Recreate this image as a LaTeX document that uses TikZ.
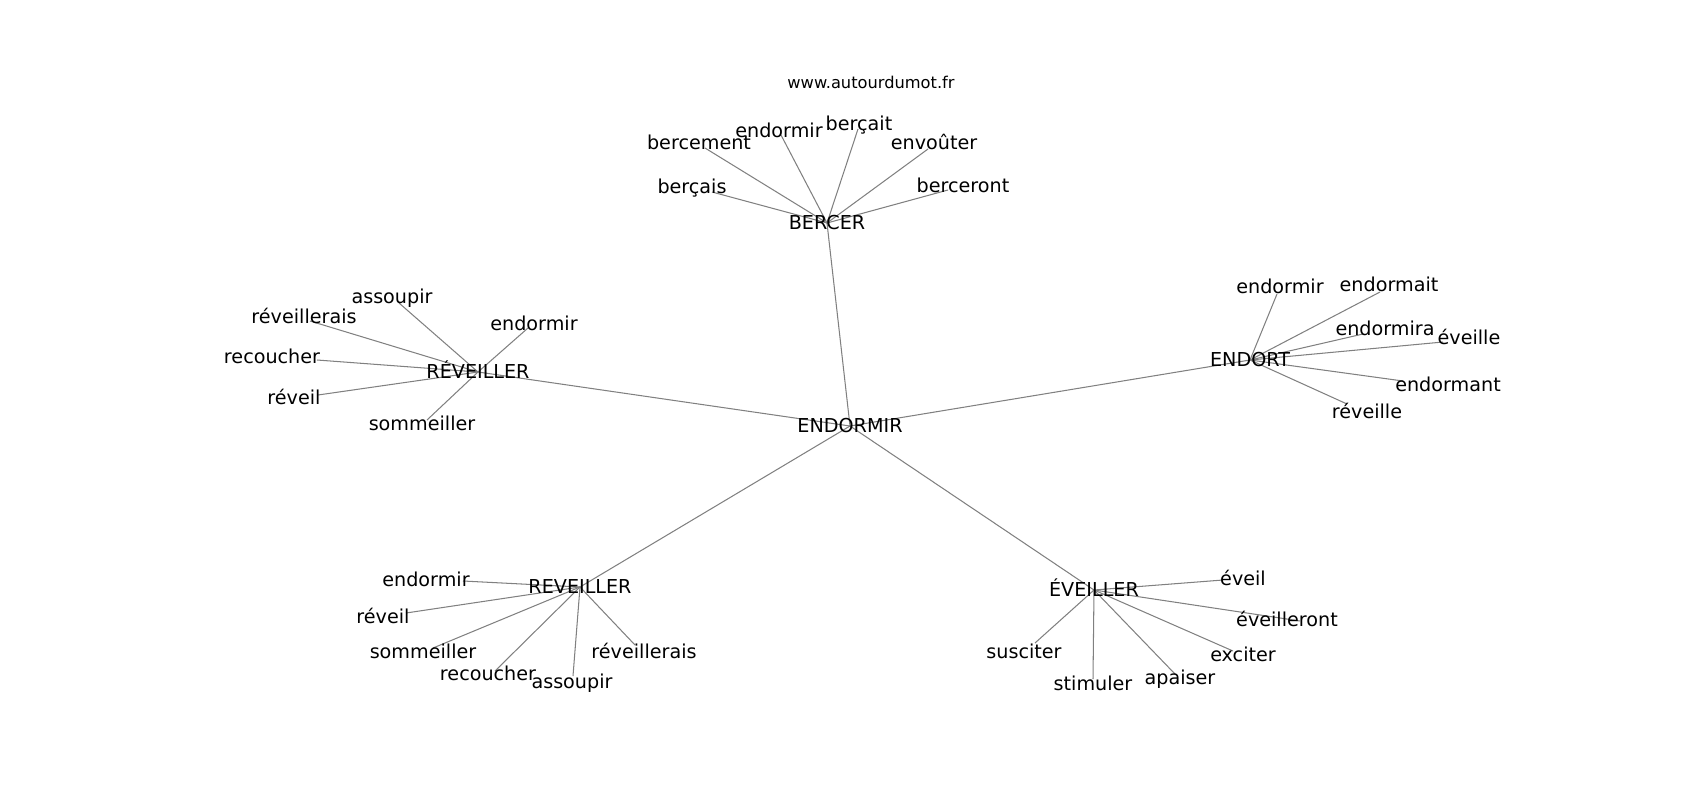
\documentclass[tikz,border=0pt]{standalone}
\usepackage{fontspec}
\setmainfont{DejaVu Sans}
\usetikzlibrary{backgrounds}

\begin{document}
\begin{tikzpicture}[x=0.72pt,y=-0.72pt,
    word/.style={anchor=base,inner sep=0pt,font=\fontsize{13.8}{16}\selectfont},
    hub/.style={word,anchor=center,text height=1.0em,text depth=0pt},
    link/.style={draw=gray,line width=0.75pt}]
  \useasboundingbox (0,0) rectangle (1700,800);
  \node[anchor=base,inner sep=0pt,font=\fontsize{11.7}{14}\selectfont] (site) at (871,88) {www.autourdumot.fr};
  % mots principaux
  \node[hub] (endormir) at (850,426) {ENDORMIR};
  \node[hub] (bercer) at (827,223) {BERCER};
  \node[hub] (reveiller1) at (478,372) {RÉVEILLER};
  \node[hub] (endort) at (1250,360) {ENDORT};
  \node[hub] (reveiller2) at (580,587) {REVEILLER};
  \node[hub] (eveiller) at (1094,590) {ÉVEILLER};
  % autour de BERCER
  \coordinate (b1) at (705,148); \node[word] (b1t) at (699,149) {bercement};
  \coordinate (b2) at (781,135); \node[word] (b2t) at (779,137) {endormir};
  \coordinate (b3) at (858,129); \node[word] (b3t) at (859,130) {berçait};
  \coordinate (b4) at (928,149); \node[word] (b4t) at (934,149) {envoûter};
  \coordinate (b5) at (712,192); \node[word] (b5t) at (692,193) {berçais};
  \coordinate (b6) at (948,190); \node[word] (b6t) at (963,192) {berceront};
  % autour de RÉVEILLER
  \coordinate (r1) at (399,303); \node[word] (r1t) at (392,303) {assoupir};
  \coordinate (r2) at (310,321); \node[word] (r2t) at (304,323) {réveillerais};
  \coordinate (r3) at (528,328); \node[word] (r3t) at (534,330) {endormir};
  \coordinate (r4) at (317,360); \node[word] (r4t) at (272,363) {recoucher};
  \coordinate (r5) at (318,395); \node[word] (r5t) at (294,404) {réveil};
  \coordinate (r6) at (427,420); \node[word] (r6t) at (422,430) {sommeiller};
  % autour de ENDORT
  \coordinate (e1) at (1277,294); \node[word] (e1t) at (1280,293) {endormir};
  \coordinate (e2) at (1380,292); \node[word] (e2t) at (1389,291) {endormait};
  \coordinate (e3) at (1363,334); \node[word] (e3t) at (1385,335) {endormira};
  \coordinate (e4) at (1443,342); \node[word] (e4t) at (1469,344) {éveille};
  \coordinate (e5) at (1403,381); \node[word] (e5t) at (1448,391) {endormant};
  \coordinate (e6) at (1347,404); \node[word] (e6t) at (1367,418) {réveille};
  % autour de REVEILLER
  \coordinate (v1) at (463,581); \node[word] (v1t) at (426,586) {endormir};
  \coordinate (v2) at (406,613); \node[word] (v2t) at (383,623) {réveil};
  \coordinate (v3) at (433,648); \node[word] (v3t) at (423,658) {sommeiller};
  \coordinate (v4) at (495,671); \node[word] (v4t) at (488,680) {recoucher};
  \coordinate (v5) at (573,676); \node[word] (v5t) at (572,688) {assoupir};
  \coordinate (v6) at (635,645); \node[word] (v6t) at (644,658) {réveillerais};
  % autour de ÉVEILLER
  \coordinate (w1) at (1223,580); \node[word] (w1t) at (1243,585) {éveil};
  \coordinate (w2) at (1300,621); \node[word] (w2t) at (1287,626) {éveilleront};
  \coordinate (w3) at (1035,643); \node[word] (w3t) at (1024,658) {susciter};
  \coordinate (w4) at (1233,651); \node[word] (w4t) at (1243,661) {exciter};
  \coordinate (w5) at (1093,679); \node[word] (w5t) at (1093,690) {stimuler};
  \coordinate (w6) at (1175,674); \node[word] (w6t) at (1180,684) {apaiser};
  \begin{scope}[on background layer]
    \foreach \h in {bercer,reveiller1,endort,reveiller2,eveiller}
      \draw[link] (endormir.center) -- (\h.center);
    \foreach \i in {1,...,6} {
      \draw[link] (bercer.center) -- (b\i);
      \draw[link] (reveiller1.center) -- (r\i);
      \draw[link] (endort.center) -- (e\i);
      \draw[link] (reveiller2.center) -- (v\i);
      \draw[link] (eveiller.center) -- (w\i);
    }
  \end{scope}
\end{tikzpicture}
\end{document}
